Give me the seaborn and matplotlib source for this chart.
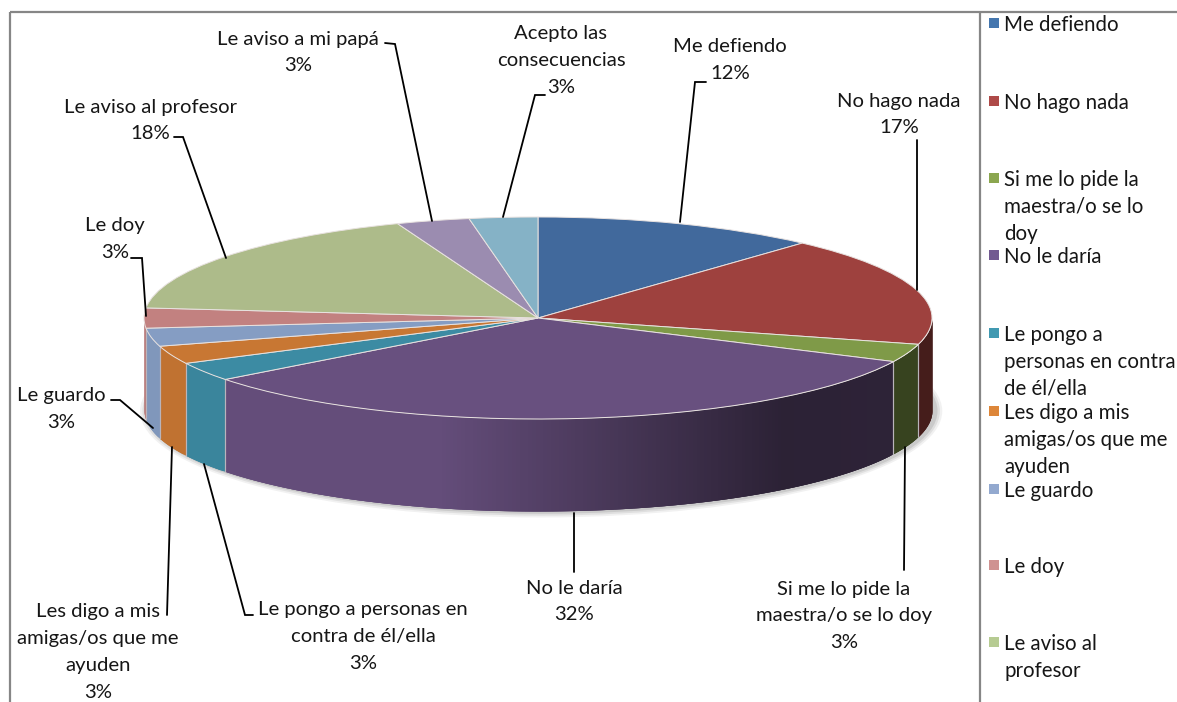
import numpy as np
import matplotlib
matplotlib.use("Agg")
import matplotlib.pyplot as plt
import seaborn as sns
from matplotlib.patches import Ellipse, Rectangle

# ---- data ----
categories = ["Me defiendo", "No hago nada", "Si me lo pide la maestra/o se lo doy", "No le daría",
              "Le pongo a personas en contra de él/ella", "Les digo a mis amigas/os que me ayuden",
              "Le guardo", "Le doy", "Le aviso al profesor", "Le aviso a mi papá", "Acepto las consecuencias"]
values = [11.7, 17.49, 2.9, 32.49, 3.0, 2.9, 2.9, 3.2, 17.6, 3.0, 2.8]
percent_labels = ["12%", "17%", "3%", "32%", "3%", "3%", "3%", "3%", "18%", "3%", "3%"]
top_colors = ["#41699c", "#9e413e", "#7f9a48", "#68507f", "#3c8ba3", "#c87733",
              "#859dc3", "#c28180", "#adbb8a", "#9b8cb0", "#85b2c6"]
legend_colors = ["#4476ae", "#ae4a48", "#8ba64f", "#725a91", "#4199b1", "#dd8639",
                 "#93a9cf", "#cf9291", "#b6cb92"]

# wrapped text as it appears on the chart
label_lines = [["Me defiendo"], ["No hago nada"], ["Si me lo pide la", "maestra/o se lo doy"], ["No le daría"],
               ["Le pongo a personas en", "contra de él/ella"], ["Les digo a mis", "amigas/os que me", "ayuden"],
               ["Le guardo"], ["Le doy"], ["Le aviso al profesor"], ["Le aviso a mi papá"],
               ["Acepto las", "consecuencias"]]
legend_lines = [["Me defiendo"], ["No hago nada"], ["Si me lo pide la", "maestra/o se lo", "doy"], ["No le daría"],
                ["Le pongo a", "personas en contra", "de él/ella"], ["Les digo a mis", "amigas/os que me", "ayuden"],
                ["Le guardo"], ["Le doy"], ["Le aviso al", "profesor"]]

# ---- layout (pixels of the 1177x702 canvas) ----
W, H = 1177, 702
CX, CY, RX, RY, DEPTH = 538, 318, 394, 101, 92
label_pos = [(730, 47), (899, 101), (844, 589), (574, 588), (363, 610), (98, 612),
             (61, 396), (115, 226), (150, 107), (298, 39), (561, 34)]
line_gap = 26.7
leaders = [[(706, 82), (695, 82), (680, 222)],
           [(917, 140), (917, 290)],
           [(904, 570), (905, 447)],
           [(574, 572), (574, 513)],
           [(253, 615), (245, 615), (204, 464)],
           [(167, 615), (172, 447)],
           [(111, 400), (120, 400), (153, 428)],
           [(131, 258), (142, 258), (146, 316)],
           [(174, 137), (183, 137), (226, 258)],
           [(385, 43), (395, 44), (432, 221)],
           [(545, 95), (535, 95), (503, 217)]]
legend_y = [25, 103, 180, 257, 335, 413, 491, 567, 644]
legend_gap = 26.8

sns.set_theme(style="white")
plt.rcParams["font.family"] = ["Lato", "DejaVu Sans"]
TEXT = "#161616"
FS = 14.6
FS_LEG = 14.8

fig = plt.figure(figsize=(W / 100, H / 100), dpi=100, facecolor="white")

# pie axes: one data unit is RX px horizontally and RY px vertically
ax = fig.add_axes([0, 0, 1, 1])
wedges, _ = ax.pie(values, colors=top_colors, startangle=90, counterclock=False, radius=1,
                   wedgeprops=dict(edgecolor="#e8e2e0", linewidth=0.7), normalize=True)
ax.set_aspect("auto")
ax.set_xlim(-CX / RX, (W - CX) / RX)
ax.set_ylim((CY - H) / RY, CY / RY)
ax.axis("off")
for w in wedges:
    w.set_zorder(5)
d = DEPTH / RY

# soft shadow under the wall
for grow, a in zip([0.018, 0.012, 0.006], [0.10, 0.14, 0.20]):
    ax.add_patch(Ellipse((0.008, -d - 0.01), 2 + 2 * grow, 2 + 6 * grow, color="#777777", alpha=a, lw=0, zorder=1))


def shade(x):
    """Side wall lighting: full colour on the left, dark on the right."""
    return np.interp(x, [-1.0, -0.25, 0.62, 1.0], [0.96, 0.96, 0.42, 0.44])


fractions = np.array(values) / np.sum(values)
edges = np.concatenate([[0], np.cumsum(fractions)]) * 2 * np.pi
for i, col in enumerate(top_colors):
    a0, a1 = max(edges[i], np.pi / 2), min(edges[i + 1], 3 * np.pi / 2)
    if a1 <= a0:
        continue
    n = max(2, int((a1 - a0) / 0.01))
    t = np.linspace(a0, a1, n + 1)
    base = np.array(matplotlib.colors.to_rgb(col))
    # draw from the far end backwards so each strip is fully overlapped by the next one
    for j in range(n):
        tt = np.linspace(t[j], t[min(j + 3, n)], 4)
        xs, ys = np.sin(tt), np.cos(tt)
        order = np.argsort(xs)
        c = base * shade(np.sin((t[j] + t[j + 1]) / 2))
        ax.fill_between(xs[order], ys[order], ys[order] - d, color=c, lw=0, zorder=3)
    # light seam between slices
    for a in (a0, a1):
        if np.pi / 2 < a < 3 * np.pi / 2:
            ax.plot([np.sin(a)] * 2, [np.cos(a), np.cos(a) - d], color="#b9b4bb", lw=0.8, zorder=4)

# overlay in pixel coordinates for frame, labels, legend
ov = fig.add_axes([0, 0, 1, 1], facecolor="none")
ov.set_xlim(0, W)
ov.set_ylim(H, 0)
ov.axis("off")

for xs, ys in [((10, 10), (12, H)), ((10, W), (12, 12)), ((980, 980), (12, H))]:
    ov.plot(xs, ys, color="#868686", lw=1.6, solid_capstyle="butt", zorder=2)

for path in leaders:
    px, py = zip(*path)
    ov.plot(px, py, color="black", lw=1.3, solid_joinstyle="miter", zorder=6)

for lines, pct, (x, y) in zip(label_lines, percent_labels, label_pos):
    for k, s in enumerate(lines + [pct]):
        ov.text(x, y + k * line_gap, s, ha="center", va="center", fontsize=FS, color=TEXT, zorder=7)

for lines, col, y in zip(legend_lines, legend_colors, legend_y):
    ov.add_patch(Rectangle((989, y - 7), 10, 10, facecolor=col, edgecolor="none", zorder=6))
    for k, s in enumerate(lines):
        ov.text(1004, y + k * legend_gap, s, ha="left", va="center", fontsize=FS_LEG, color=TEXT, zorder=7)

fig.savefig("out.png", dpi=100, facecolor="white")
